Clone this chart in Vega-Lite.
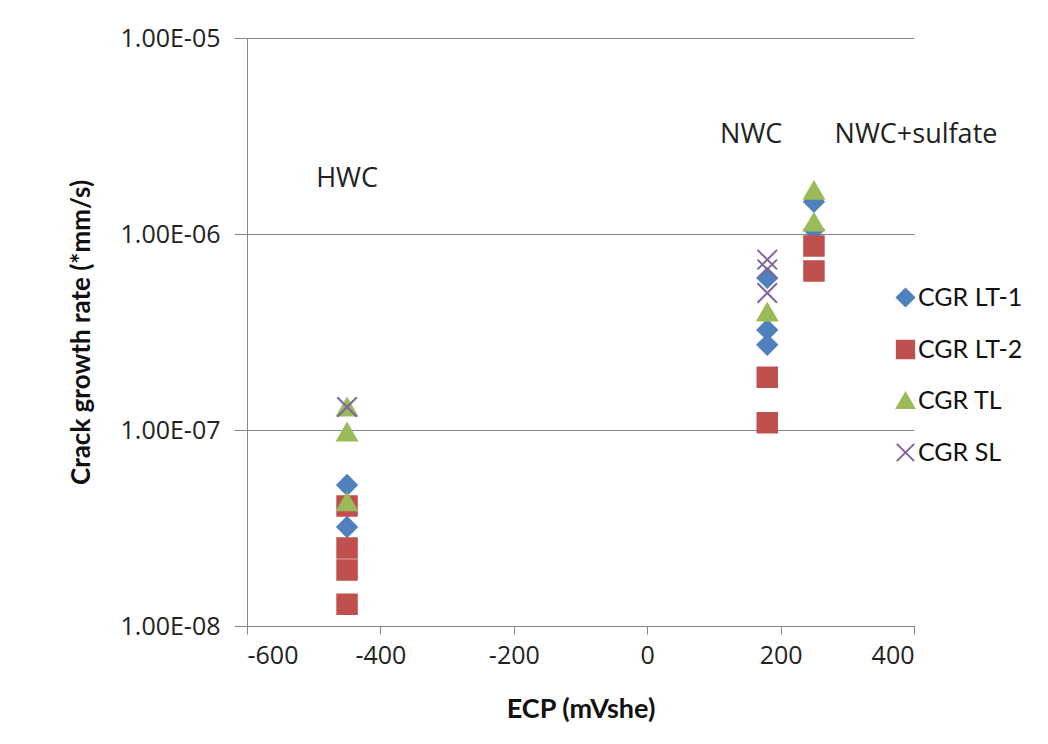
{
  "$schema": "https://vega.github.io/schema/vega-lite/v6.json",
  "autosize": "none",
  "width": 667,
  "height": 588,
  "padding": {"left": 247, "top": 38, "right": 134, "bottom": 118},
  "background": "white",
  "config": {"view": {"stroke": null}},
  "datasets": {
    "pts": [
      {"ecp": -450, "cgr": 5.24e-8, "series": "CGR LT-1"},
      {"ecp": -450, "cgr": 3.2e-8, "series": "CGR LT-1"},
      {"ecp": 180, "cgr": 5.97e-7, "series": "CGR LT-1"},
      {"ecp": 180, "cgr": 3.24e-7, "series": "CGR LT-1"},
      {"ecp": 180, "cgr": 2.72e-7, "series": "CGR LT-1"},
      {"ecp": 250, "cgr": 1.46e-6, "series": "CGR LT-1"},
      {"ecp": 250, "cgr": 1.05e-6, "series": "CGR LT-1"},
      {"ecp": -450, "cgr": 4.09e-8, "series": "CGR LT-2"},
      {"ecp": -450, "cgr": 2.5e-8, "series": "CGR LT-2"},
      {"ecp": -450, "cgr": 1.93e-8, "series": "CGR LT-2"},
      {"ecp": -450, "cgr": 1.29e-8, "series": "CGR LT-2"},
      {"ecp": 180, "cgr": 1.86e-7, "series": "CGR LT-2"},
      {"ecp": 180, "cgr": 1.09e-7, "series": "CGR LT-2"},
      {"ecp": 250, "cgr": 8.69e-7, "series": "CGR LT-2"},
      {"ecp": 250, "cgr": 6.47e-7, "series": "CGR LT-2"},
      {"ecp": -450, "cgr": 1.31e-7, "series": "CGR TL"},
      {"ecp": -450, "cgr": 9.77e-8, "series": "CGR TL"},
      {"ecp": -450, "cgr": 4.3e-8, "series": "CGR TL"},
      {"ecp": 180, "cgr": 4.0e-7, "series": "CGR TL"},
      {"ecp": 250, "cgr": 1.67e-6, "series": "CGR TL"},
      {"ecp": 250, "cgr": 1.15e-6, "series": "CGR TL"},
      {"ecp": -450, "cgr": 1.31e-7, "series": "CGR SL"},
      {"ecp": 180, "cgr": 7.4e-7, "series": "CGR SL"},
      {"ecp": 180, "cgr": 6.6e-7, "series": "CGR SL"},
      {"ecp": 180, "cgr": 5.0e-7, "series": "CGR SL"}
    ],
    "notes": [
      {"ecp": -450, "cgr": 1.74e-6, "label": "HWC"},
      {"ecp": 156, "cgr": 2.91e-6, "label": "NWC"},
      {"ecp": 403, "cgr": 2.91e-6, "label": "NWC+sulfate"}
    ]
  },
  "layer": [
    {
      "data": {"name": "pts"},
      "mark": {"type": "point", "filled": false, "strokeWidth": 2, "opacity": 1, "size": 380},
      "encoding": {
        "x": {
          "field": "ecp", "type": "quantitative",
          "scale": {"domain": [-600, 400], "nice": false, "zero": false},
          "axis": {
            "title": "ECP (mVshe)", "values": [-600, -400, -200, 0, 200, 400],
            "labelExpr": "'' + datum.value",
            "grid": false, "domainColor": "#868686", "tickColor": "#868686",
            "tickSize": 8, "labelPadding": 9,
            "labelFont": "Open Sans", "labelFontSize": 25, "labelColor": "#222222",
            "titleFont": "Lato", "titleFontSize": 27, "titleFontWeight": "bold",
            "titleColor": "#111111", "titlePadding": 28
          }
        },
        "y": {
          "field": "cgr", "type": "quantitative",
          "scale": {"type": "log", "domain": [1e-8, 1e-5], "nice": false},
          "axis": {
            "title": "Crack growth rate (*mm/s)", "values": [1e-8, 1e-7, 1e-6, 1e-5],
            "labelExpr": "'1.00E-0' + round(-log(datum.value)/LN10)",
            "grid": true, "gridColor": "#868686", "gridWidth": 1,
            "domainColor": "#868686", "tickColor": "#868686", "tickSize": 13,
            "labelPadding": 14,
            "labelFont": "Open Sans", "labelFontSize": 25, "labelColor": "#222222",
            "titleFont": "Lato", "titleFontSize": 26, "titleFontWeight": "bold",
            "titleColor": "#111111", "titlePadding": 26
          }
        },
        "shape": {
          "field": "series", "type": "nominal",
          "scale": {"domain": ["CGR LT-1", "CGR LT-2", "CGR TL", "CGR SL"],
                    "range": ["diamond", "square", "triangle-up", "M-1,-1L1,1M-1,1L1,-1"]},
          "legend": {
            "title": null, "orient": "none", "legendX": 646, "legendY": 247,
            "padding": 0, "rowPadding": 25, "symbolSize": 300, "symbolStrokeWidth": 2,
            "labelFont": "Lato", "labelFontSize": 25, "labelColor": "#111111",
            "labelOffset": 0
          }
        },
        "stroke": {
          "field": "series", "type": "nominal",
          "scale": {"domain": ["CGR LT-1", "CGR LT-2", "CGR TL", "CGR SL"],
                    "range": ["#4F81BD", "#C0504D", "#9BBB59", "#8064A2"]}
        },
        "fill": {
          "field": "series", "type": "nominal",
          "scale": {"domain": ["CGR LT-1", "CGR LT-2", "CGR TL", "CGR SL"],
                    "range": ["#4F81BD", "#C0504D", "#9BBB59", "transparent"]}
        }
      }
    },
    {
      "data": {"name": "notes"},
      "mark": {"type": "text", "font": "Open Sans", "fontSize": 27, "color": "#222222",
               "align": "center", "baseline": "alphabetic"},
      "encoding": {
        "x": {"field": "ecp", "type": "quantitative"},
        "y": {"field": "cgr", "type": "quantitative"},
        "text": {"field": "label"}
      }
    }
  ]
}
